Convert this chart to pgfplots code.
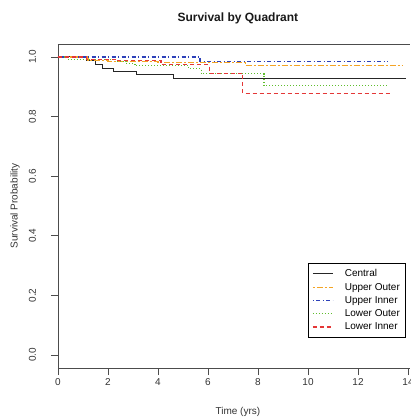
\documentclass[border=0pt]{standalone}
\usepackage{fontspec}
\setmainfont{Liberation Sans}
\usepackage{pgfplots}
\pgfplotsset{compat=1.18}

\definecolor{cOrange}{RGB}{244,164,36}
\definecolor{cBlue}{RGB}{45,65,185}
\definecolor{cGreen}{RGB}{95,190,45}
\definecolor{cRed}{RGB}{228,55,55}

\begin{document}
\begin{tikzpicture}
\begin{axis}[
  scale only axis,
  width=352pt, height=324pt,
  xmin=0, xmax=14.08,
  ymin=-0.0436, ymax=1.0436,
  axis lines=left,
  axis line style={-, black!70, line width=0.7pt},
  xtick={0,2,...,14},
  ytick={0,0.2,...,1.0},
  tick align=outside,
  major tick length=7pt,
  tick style={black!70, line width=0.6pt},
  /pgf/number format/assume math mode=true,
  /pgf/number format/fixed,
  /pgf/number format/fixed zerofill,
  /pgf/number format/precision=1,
  xticklabel={\pgfmathprintnumber[fixed,precision=0]{\tick}},
  tick label style={font=\fontsize{10}{12}\selectfont, text=black!80},
  yticklabel style={anchor=base, inner sep=0pt, xshift=-15pt, rotate=90},
  xticklabel style={anchor=base, inner sep=0pt, yshift=-10pt},
  ylabel={Survival Probability},
  ylabel style={at={(rel axis cs:-0.1222,0.5)}, anchor=center,
    font=\fontsize{10}{12}\selectfont, text=black!80},
  xlabel={Time (yrs)},
  xlabel style={at={(rel axis cs:0.511,0)}, anchor=base, inner sep=0pt,
    yshift=-46pt, font=\fontsize{10}{12}\selectfont, text=black!80},
  legend cell align=left,
  legend style={at={(rel axis cs:0.710,0)}, anchor=south west, yshift=30pt,
    draw, line width=0.6pt, inner xsep=4pt, inner ysep=5pt,
    font=\fontsize{10}{13.2}\selectfont, row sep=1.8pt,
    nodes={inner sep=1.5pt},
    /tikz/every odd column/.append style={column sep=10pt}},
  legend image code/.code={\draw[#1] (0pt,0pt) -- (20pt,0pt);},
  every axis plot/.append style={line width=1.1pt, const plot},
  clip=false,
]

% Central
\addplot[color=black!85, line width=1pt] coordinates {
  (0,1) (1.15,0.987) (1.48,0.975) (1.77,0.962) (2.21,0.952)
  (3.12,0.942) (4.6,0.928) (13.9,0.928)};
\addlegendentry{Central}

% Upper Outer
\addplot[draw=cOrange, dash pattern=on 2pt off 2pt on 6pt off 2pt] coordinates {
  (0,1) (1.2,0.988) (2.0,0.985) (4.0,0.981) (7.5,0.972) (13.8,0.972)};
\addlegendentry{Upper Outer}

% Upper Inner
\addplot[draw=cBlue, dash pattern=on 1pt off 2.5pt on 4pt off 2.5pt] coordinates {
  (0,1) (5.68,0.985) (13.17,0.985)};
\addlegendentry{Upper Inner}

% Lower Outer
\addplot[draw=cGreen, dash pattern=on 1pt off 2pt] coordinates {
  (0,1) (0.41,0.992) (2.3,0.985) (2.72,0.978) (3.08,0.971)
  (5.23,0.960) (5.73,0.944) (8.24,0.903) (13.17,0.903)};
\addlegendentry{Lower Outer}

% Lower Inner
\addplot[draw=cRed, dash pattern=on 4pt off 3pt] coordinates {
  (0,1) (1.15,0.992) (2.35,0.987) (4.12,0.974) (6.05,0.945)
  (7.39,0.878) (13.28,0.878)};
\addlegendentry{Lower Inner}

% top frame line (box is open on the cropped right side)
\draw[black!70, line width=0.7pt] (rel axis cs:0,1) -- (rel axis cs:1,1);

\node[font=\bfseries\fontsize{12}{14}\selectfont, text=black!90]
  at (rel axis cs:0.511,1) [yshift=26pt] {Survival by Quadrant};
\end{axis}
\pgfresetboundingbox
\path[use as bounding box] (-58pt,-49pt) rectangle (352pt,368pt);
\end{tikzpicture}
\end{document}
